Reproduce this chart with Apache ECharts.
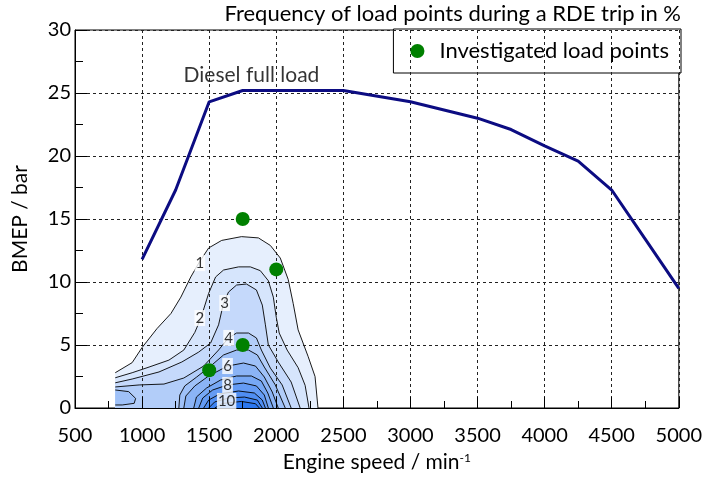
<!DOCTYPE html>
<html>
<head>
<meta charset="utf-8">
<script src="https://cdn.jsdelivr.net/npm/echarts@6/dist/echarts.min.js"></script>
<style>
  html, body { margin: 0; padding: 0; background: #fff; }
  #chart { width: 705px; height: 480px; }
</style>
</head>
<body>
<div id="chart"></div>
<script>
// Diesel full-load curve: engine speed (1/min) and BMEP (bar)
const fullLoadRpm  = [1000, 1250, 1500, 1750, 2000, 2500, 3000, 3500, 3750, 4000, 4250, 4500, 4750, 5000];
const fullLoadBmep = [11.8, 17.3, 24.3, 25.2, 25.2, 25.2, 24.3, 23.0, 22.1, 20.8, 19.6, 17.3, 13.4, 9.5];

// Investigated load points
const pointRpm  = [1500, 1750, 1750, 2000];
const pointBmep = [3, 5, 15, 11];

// Frequency contours (% of trip time), each as [rpm, bmep] along the iso-line
const contour1  = [[800,2.8],[926,3.6],[1000,4.8],[1111,6.3],[1215,7.5],[1289,8.8],[1363,10.4],[1422,11.5],[1496,12.7],[1593,13.3],[1741,13.6],[1867,13.5],[1956,12.9],[2030,11.9],[2089,10.2],[2126,8.3],[2163,6.2],[2237,4.1],[2289,2.5],[2311,0]];
const contour2  = [[800,2.4],[926,2.8],[1052,3.25],[1200,3.8],[1311,4.6],[1393,6.0],[1437,7.1],[1496,9.1],[1548,10.4],[1607,10.95],[1719,11.2],[1807,11.2],[1881,10.9],[1941,10.1],[1978,8.8],[2000,7.2],[2022,5.95],[2081,4.6],[2163,3.2],[2215,1.8],[2244,0]];
const contour3  = [[800,2.0],[926,2.3],[1126,2.86],[1296,3.65],[1422,4.44],[1511,5.16],[1570,6.6],[1607,8.33],[1644,9.2],[1704,9.76],[1778,9.84],[1852,9.37],[1896,8.17],[1919,6.6],[1941,5.0],[2015,3.65],[2111,2.06],[2178,0]];
const contour4  = [[800,1.67],[978,1.83],[1163,1.9],[1311,2.38],[1459,3.33],[1570,4.6],[1644,5.56],[1704,5.95],[1793,5.95],[1852,5.56],[1889,4.6],[1956,3.17],[2044,1.83],[2111,0]];
const contour5  = [[1274,0],[1281,1.03],[1318,1.75],[1407,2.46],[1511,3.33],[1607,4.21],[1704,4.6],[1793,4.6],[1859,4.21],[1911,3.25],[1993,1.83],[2067,0]];
const contour5b = [[800,1.43],[900,1.3],[952,0.76],[941,0.37],[852,0.24],[800,0.24]];
const contour6  = [[1311,0],[1326,0.95],[1393,1.75],[1496,2.54],[1637,3.33],[1756,3.57],[1845,3.33],[1911,2.46],[1970,1.27],[2015,0]];
const contour7  = [[1385,0],[1405,0.87],[1481,1.59],[1585,2.22],[1704,2.54],[1815,2.54],[1889,2.14],[1937,1.19],[1978,0]];
const contour8  = [[1422,0],[1452,0.79],[1526,1.43],[1637,1.83],[1756,1.98],[1852,1.75],[1911,1.03],[1941,0]];
const contour9  = [[1459,0],[1496,0.63],[1578,1.11],[1719,1.35],[1837,1.19],[1896,0.63],[1919,0]];
const contour10 = [[1496,0],[1541,0.48],[1644,0.79],[1763,0.87],[1859,0.63],[1896,0]];
const contour11 = [[1541,0],[1600,0.36],[1741,0.52],[1845,0.34],[1874,0]];

// Contour level labels
const labelText = ['1', '2', '3', '4', '6', '8', '10'];
const labelRpm  = [1430, 1430, 1615, 1645, 1637, 1637, 1630];
const labelBmep = [11.5, 7.14, 8.33, 5.56, 3.33, 1.83, 0.56];

const bands = [
  { pts: contour1,  fill: '#e6effd' },
  { pts: contour2,  fill: '#d6e5fc' },
  { pts: contour3,  fill: '#c5d9fb' },
  { pts: contour4,  fill: '#b2cdf9' },
  { pts: contour5,  fill: '#9fc1f8' },
  { pts: contour5b, fill: '#9fc1f8' },
  { pts: contour6,  fill: '#8bb4f6' },
  { pts: contour7,  fill: '#77a8f5' },
  { pts: contour8,  fill: '#649bf4' },
  { pts: contour9,  fill: '#508ef2' },
  { pts: contour10, fill: '#3e83f1' },
  { pts: contour11, fill: '#2c78f0' }
];

const FONT = 'Lato';

function bandSeries(band) {
  return {
    type: 'custom',
    z: 2,
    silent: true,
    clip: true,
    data: [[band.pts[0][0], band.pts[0][1]]],
    renderItem: function (params, api) {
      const line = band.pts.map(p => api.coord(p));
      const poly = line.slice();
      const first = band.pts[0], last = band.pts[band.pts.length - 1];
      if (last[1] !== 0 && last[0] !== first[0]) poly.push(api.coord([last[0], 0]));
      if (first[1] !== 0 && last[0] !== first[0]) poly.push(api.coord([first[0], 0]));
      return {
        type: 'group',
        children: [
          { type: 'polygon', shape: { points: poly }, style: { fill: band.fill } },
          { type: 'polyline', shape: { points: line }, style: { fill: null, stroke: '#000', lineWidth: 0.9 } }
        ]
      };
    }
  };
}

const chart = echarts.init(document.getElementById('chart'), null, { renderer: 'canvas' });

const option = {
  animation: false,
  backgroundColor: '#fff',
  textStyle: { fontFamily: FONT },
  title: {
    text: 'Frequency of load points during a RDE trip in %',
    right: 24,
    top: 3,
    padding: 0,
    textStyle: { fontFamily: FONT, fontSize: 22, fontWeight: 'normal', color: '#000' }
  },
  legend: {
    data: ['Investigated load points'],
    right: 24,
    top: 29,
    orient: 'vertical',
    icon: 'circle',
    itemWidth: 34,
    itemHeight: 14,
    padding: [11, 12, 11, 17],
    backgroundColor: '#fff',
    borderColor: '#000',
    borderWidth: 1,
    borderRadius: 0,
    textStyle: { fontFamily: FONT, fontSize: 22, color: '#000' }
  },
  grid: {
    left: 75, right: 23, top: 30, bottom: 72,
    show: true, borderColor: '#000', borderWidth: 1, backgroundColor: 'transparent'
  },
  xAxis: {
    type: 'value',
    min: 500, max: 5000, interval: 500,
    z: 4,
    name: 'Engine speed / min{sup|-1}',
    nameLocation: 'middle',
    nameGap: 44,
    nameTextStyle: {
      fontFamily: FONT, fontSize: 21, color: '#000',
      rich: { sup: { fontFamily: FONT, fontSize: 12, verticalAlign: 'top', padding: [0, 0, 9, 0], color: '#000' } }
    },
    axisLine: { show: true, lineStyle: { color: '#000', width: 1 } },
    axisTick: { show: true, inside: true, length: 11, lineStyle: { color: '#000' } },
    minorTick: { show: true, splitNumber: 2, length: 7, lineStyle: { color: '#000' } },
    axisLabel: { fontFamily: FONT, fontSize: 20, color: '#000', margin: 18, formatter: v => String(v) },
    splitLine: { show: true, lineStyle: { color: '#222', type: [3, 3], width: 1 } }
  },
  yAxis: {
    type: 'value',
    min: 0, max: 30, interval: 5,
    z: 4,
    name: 'BMEP / bar',
    nameLocation: 'middle',
    nameGap: 44,
    nameRotate: 90,
    nameTextStyle: { fontFamily: FONT, fontSize: 21, color: '#000' },
    axisLine: { show: true, lineStyle: { color: '#000', width: 1 } },
    axisTick: { show: true, inside: true, length: 12, lineStyle: { color: '#000' } },
    minorTick: { show: true, splitNumber: 2, length: 8, lineStyle: { color: '#000' } },
    axisLabel: { fontFamily: FONT, fontSize: 20, color: '#000', margin: 4 },
    splitLine: { show: true, lineStyle: { color: '#222', type: [3, 3], width: 1 } }
  },
  series: bands.map(bandSeries).concat([
    {
      type: 'scatter',
      z: 5,
      silent: true,
      symbolSize: 0,
      data: labelRpm.map((r, i) => [r, labelBmep[i], labelText[i]]),
      label: {
        show: true,
        position: 'inside',
        formatter: p => p.value[2],
        fontFamily: FONT,
        fontSize: 15,
        color: '#000',
        backgroundColor: '#fff',
        padding: [1, 1, 0, 1]
      }
    },
    {
      name: 'Diesel full load',
      type: 'line',
      z: 6,
      silent: true,
      symbol: 'none',
      data: fullLoadRpm.map((r, i) => [r, fullLoadBmep[i]]),
      lineStyle: { color: '#0c0c82', width: 3 }
    },
    {
      type: 'scatter',
      z: 6,
      silent: true,
      symbolSize: 0,
      data: [[1815, 26.4]],
      label: {
        show: true,
        position: 'inside',
        formatter: 'Diesel full load',
        fontFamily: FONT,
        fontSize: 21,
        color: '#000'
      }
    },
    {
      name: 'Investigated load points',
      type: 'scatter',
      z: 7,
      symbol: 'circle',
      symbolSize: 14,
      itemStyle: { color: '#008000', opacity: 1 },
      data: pointRpm.map((r, i) => [r, pointBmep[i]])
    }
  ])
};

chart.setOption(option);
</script>
</body>
</html>
